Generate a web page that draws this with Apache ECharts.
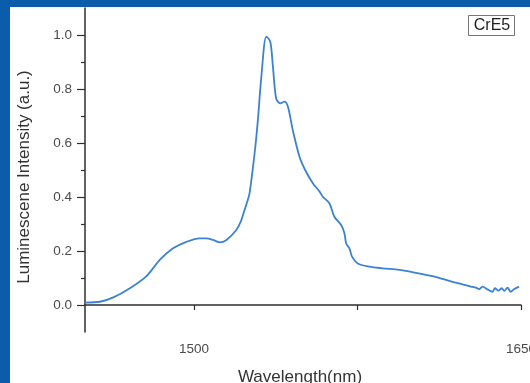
<!DOCTYPE html>
<html>
<head>
<meta charset="utf-8">
<script src="https://cdn.jsdelivr.net/npm/echarts@6/dist/echarts.min.js"></script>
<style>
html,body{margin:0;padding:0;background:#fff;}
#c{width:530px;height:383px;}
</style>
</head>
<body>
<div id="c"></div>
<script>
var wavelength = [1450,1456.9,1463,1470.6,1478.2,1484.3,1490.4,1496.5,1502.6,1505.7,1509,1511.8,1514.9,1519.4,1521.5,1523.2,1524.7,1525.5,1527.8,1529.3,1530.9,1533.2,1535,1536.2,1537.7,1539.6,1541.5,1543.1,1545.3,1548.4,1551,1554.5,1557.6,1559.1,1562.1,1564.4,1567.5,1569,1569.8,1571.3,1572.5,1575.1,1580.5,1586.5,1594.2,1600,1609.4,1618.6,1629.3,1630.8,1632.3,1634.6,1636.9,1638.1,1639.6,1641.2,1642.3,1643.8,1645.3,1646.8,1649.1];
var intensity = [0.009,0.012,0.028,0.062,0.107,0.167,0.21,0.234,0.247,0.247,0.24,0.232,0.241,0.278,0.31,0.352,0.39,0.414,0.562,0.685,0.846,0.994,0.975,0.883,0.765,0.747,0.753,0.734,0.648,0.549,0.5,0.451,0.42,0.401,0.377,0.327,0.296,0.266,0.228,0.21,0.179,0.154,0.142,0.136,0.13,0.122,0.107,0.086,0.064,0.059,0.068,0.058,0.049,0.062,0.053,0.062,0.052,0.064,0.049,0.058,0.068];
var xLabelValues = [1500, 1650];
var xTickValues = [1500, 1575, 1650];
var yLabelValues = [0, 0.2, 0.4, 0.6, 0.8, 1.0];
var yMinorValues = [0.1, 0.3, 0.5, 0.7, 0.9];
var seriesName = 'CrE5';
var xTitle = 'Wavelength(nm)';
var yTitle = 'Luminescene Intensity (a.u.)';

var data = wavelength.map(function(w, i){ return [w, intensity[i]]; });
var chart = echarts.init(document.getElementById('c'), null, {renderer:'canvas'});
var axisColor = '#2f2f2f';
var labelColor = '#4a4a4a';
var fontFam = '"Liberation Sans", Arial, sans-serif';
chart.setOption({
  backgroundColor: '#fff',
  animation: false,
  grid: {left: 85, right: 9, top: 8, bottom: 51, outerBoundsMode: 'none', containLabel: false},
  graphic: [
    {type:'rect', left:0, top:0, shape:{width:530, height:7}, style:{fill:'#0b5cab'}, z:100},
    {type:'rect', left:0, top:0, shape:{width:10, height:383}, style:{fill:'#0b5cab'}, z:100},
    {type:'rect', x:468.5, y:15.5, shape:{x:0,y:0,width:46,height:20}, style:{fill:'#fff', stroke:'#777', lineWidth:1}, z:50},
    {type:'text', x:492, y:26, style:{text:seriesName, fill:'#1e1e1e', font:'16px ' + fontFam, align:'center', verticalAlign:'middle'}, z:51},
    {type:'text', x:300, y:377, style:{text:xTitle, fill:'#333', font:'17px ' + fontFam, align:'center', verticalAlign:'middle'}, z:51},
    {type:'text', x:24, y:177, rotation: Math.PI/2, style:{text:yTitle, fill:'#333', font:'17px ' + fontFam, align:'center', verticalAlign:'middle'}, z:51}
  ],
  xAxis: {
    type: 'value', min: 1450, max: 1650,
    axisLine: {show:true, lineStyle:{color:axisColor, width:1.5}},
    axisTick: {show:true, customValues: xTickValues, length:5, lineStyle:{color:axisColor, width:1.2}},
    axisLabel: {customValues: xLabelValues, color: labelColor, fontSize: 13.5, fontFamily:'Liberation Sans', margin: 10,
      formatter: function(v){ return String(v); }},
    splitLine: {show:false}
  },
  yAxis: [{
    type: 'value', min: -0.1, max: 1.1,
    axisLine: {show:true, lineStyle:{color:axisColor, width:1.5}},
    axisTick: {show:true, customValues: yLabelValues, length:8, lineStyle:{color:axisColor, width:1.2}},
    axisLabel: {customValues: yLabelValues, color: labelColor, fontSize: 13.5, fontFamily:'Liberation Sans', margin: 13,
      formatter: function(v){ return v.toFixed(1); }},
    splitLine: {show:false}
  },{
    type: 'value', min: -0.1, max: 1.1, position: 'left',
    axisLine: {show:false},
    axisTick: {show:true, customValues: yMinorValues, length:4, lineStyle:{color:axisColor, width:1.2}},
    axisLabel: {show:false},
    splitLine: {show:false}
  }],
  series: [{
    type: 'line', name: seriesName, data: data, yAxisIndex: 0,
    showSymbol: false, smooth: 0.3,
    lineStyle: {color:'#3c82d2', width:1.8}
  }]
});
</script>
</body>
</html>
